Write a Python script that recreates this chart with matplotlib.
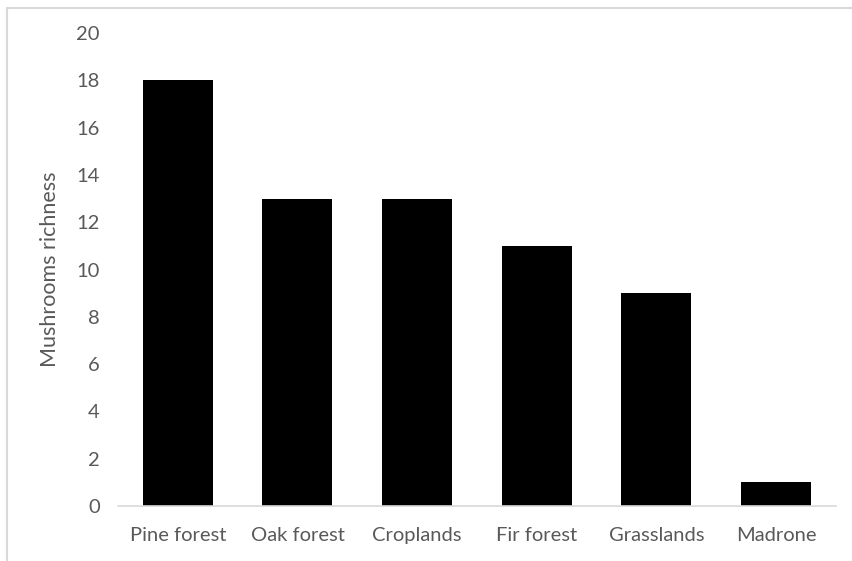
import matplotlib.pyplot as plt
from matplotlib.patches import Rectangle

habitats = ["Pine forest", "Oak forest", "Croplands", "Fir forest", "Grasslands", "Madrone"]
richness = [18, 13, 13, 11, 9, 1]
y_ticks = [0, 2, 4, 6, 8, 10, 12, 14, 16, 18, 20]

plt.rcParams['font.family'] = ['Lato', 'DejaVu Sans']

fig = plt.figure(figsize=(8.52, 5.61), dpi=100)
ax = fig.add_axes([0.1385, 0.098, 0.8425, 0.843])

x = range(len(habitats))
ax.bar(x, richness, width=0.585, color="black")

ax.set_xlim(-0.5, len(habitats) - 0.5)
ax.set_ylim(0, 20)
ax.set_yticks(y_ticks)
ax.set_xticks(list(x))
ax.set_xticklabels(habitats)

for side in ["top", "right", "left"]:
    ax.spines[side].set_visible(False)
ax.spines["bottom"].set_color("#d9d9d9")
ax.spines["bottom"].set_linewidth(1.2)

ax.tick_params(axis="both", length=0, labelsize=14.5, colors="#595959")
ax.tick_params(axis="y", pad=13)
ax.tick_params(axis="x", pad=15)

ax.set_ylabel("Mushrooms richness", fontsize=15.5, color="#595959", labelpad=12)

# light frame around the chart area
frame = Rectangle((7 / 852, -0.1), 1.2, 1 - 7.5 / 561 + 0.1, transform=fig.transFigure,
                  fill=False, edgecolor="#d9d9d9", linewidth=1.5)
fig.patches.append(frame)

fig.savefig("out.png", dpi=100)
